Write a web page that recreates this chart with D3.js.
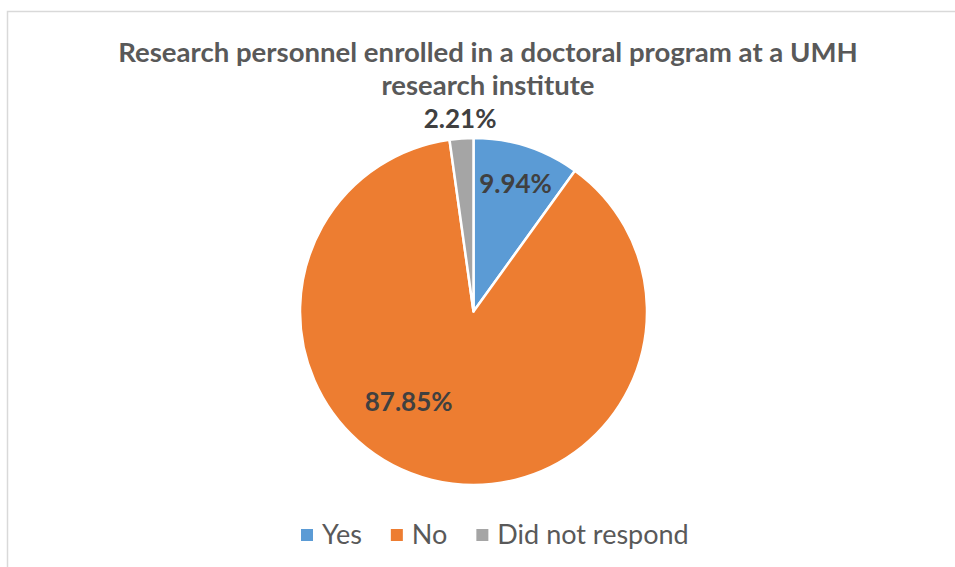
<!DOCTYPE html>
<html>
<head>
<meta charset="utf-8">
<script src="https://cdn.jsdelivr.net/npm/d3@7"></script>
<style>
  body { margin: 0; background: #fff; }
  svg { display: block; font-family: Lato, "Open Sans", sans-serif; }
</style>
</head>
<body>
<svg id="chart" width="955" height="567"></svg>
<script>
// data
var titleLines = ["Research personnel enrolled in a doctoral program at a UMH", "research institute"];
var categories = ["Yes", "No", "Did not respond"];
var shares = [9.94, 87.85, 2.21];
var colors = ["#5B9BD5", "#ED7D31", "#A5A5A5"];

var svg = d3.select("#chart");
var width = +svg.attr("width"), height = +svg.attr("height");

// chart area frame
svg.append("rect")
	.attr("x", 7.5).attr("y", 11.5)
	.attr("width", width).attr("height", height)
	.attr("fill", "#fff")
	.attr("stroke", "#d9d9d9")
	.attr("stroke-width", 1.5);

// title
var titleG = svg.append("g").attr("fill", "#595959")
	.style("font-weight", "bold").style("font-size", "25px")
	.attr("text-anchor", "middle");
var titleWidths = [740, 213];
titleLines.forEach(function(t, i){
	var tx = titleG.append("text")
		.attr("x", 488)
		.attr("y", 62 + i * 33)
		.text(t);
	var w = tx.node().getComputedTextLength();
	tx.style("font-size", (25 * titleWidths[i] / w) + "px");
});

// pie
var cx = 473.5, cy = 311.5, radius = 173.5;
var data = categories.map(function(c, i){ return {label: c, value: shares[i], color: colors[i]}; });

var pie = d3.pie().sort(null).value(function(d){ return d.value; });
var arcs = pie(data);
var arc = d3.arc().innerRadius(0).outerRadius(radius);

var pieG = svg.append("g").attr("transform", "translate(" + cx + "," + cy + ")");
pieG.selectAll("path")
	.data(arcs)
	.enter().append("path")
	.attr("d", arc)
	.attr("fill", function(d){ return d.data.color; })
	.attr("stroke", "#fff")
	.attr("stroke-width", 2.5)
	.attr("stroke-linejoin", "round");

// data labels (radius fraction, extra offset)
var labelPos = [
	{r: 0.77, dx: 1, dy: 0},
	{r: 0.62, dx: -39, dy: -14},
	{r: 1.11, dx: 0, dy: 0}
];
pieG.selectAll("text.lbl")
	.data(arcs)
	.enter().append("text")
	.attr("class", "lbl")
	.attr("text-anchor", "middle")
	.attr("fill", "#404040")
	.style("font-weight", "bold")
	.style("font-size", "26px")
	.attr("transform", function(d, i){
		var p = labelPos[i];
		var la = d3.arc().innerRadius(radius * p.r).outerRadius(radius * p.r);
		var c = la.centroid(d);
		return "translate(" + (c[0] + p.dx) + "," + (c[1] + p.dy + 9) + ")";
	})
	.text(function(d){ return d.data.value.toFixed(2) + "%"; });

// legend
var legendG = svg.append("g").attr("transform", "translate(0,535)");
var lx = 301;
data.forEach(function(d){
	legendG.append("rect")
		.attr("x", lx).attr("y", -6)
		.attr("width", 12).attr("height", 12)
		.attr("fill", d.color);
	var t = legendG.append("text")
		.attr("x", lx + 21).attr("y", 9)
		.attr("fill", "#595959")
		.style("font-size", "27px")
		.text(d.label);
	lx += 21 + t.node().getComputedTextLength() + 29;
});
</script>
</body>
</html>
